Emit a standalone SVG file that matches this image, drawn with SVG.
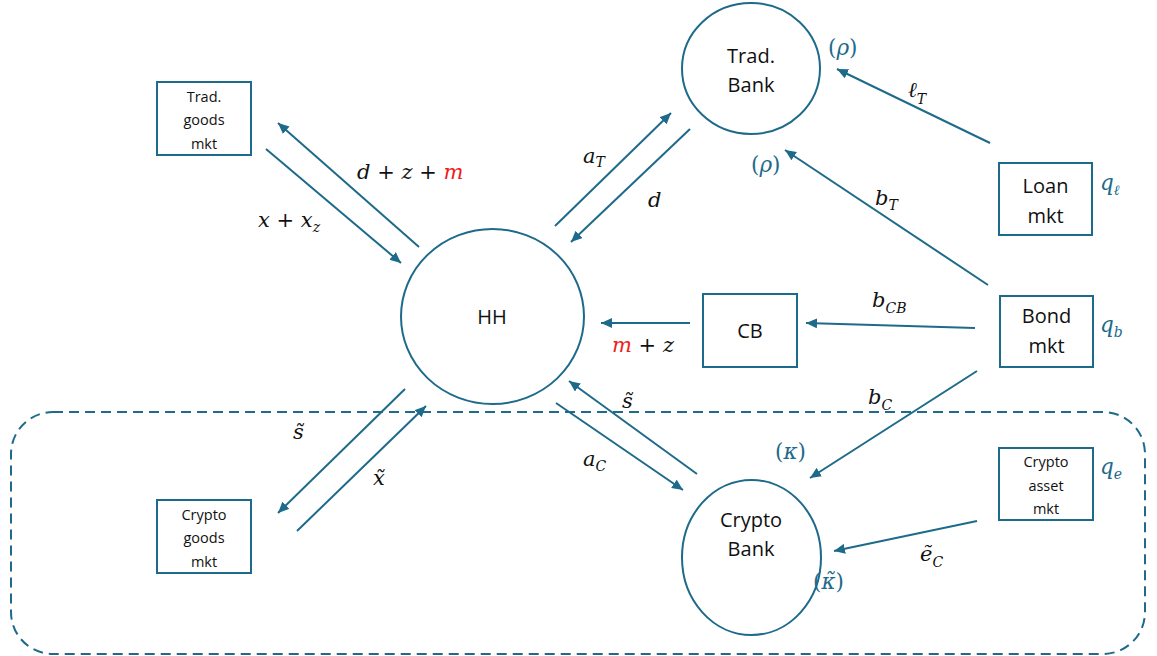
<svg xmlns="http://www.w3.org/2000/svg" width="1157" height="656" viewBox="0 0 1157 656">
<style>
.node{fill:#fff;stroke:#1D6A8A;stroke-width:2}
.lbl{font-family:"Open Sans","Liberation Sans",sans-serif;fill:#111;text-anchor:middle}
.big{font-size:20px}
.small{font-size:14.5px}
.conn line{stroke:#1D6A8A;stroke-width:2;marker-end:url(#ah)}
.m{font-family:"DejaVu Serif","Liberation Serif",serif;font-style:italic;font-size:21px;fill:#111}
.p{font-family:"DejaVu Serif","Liberation Serif",serif;font-style:italic;font-size:21.5px;fill:#1D6A8A}
.up{font-style:normal}
.sub{font-size:14px}
.red{fill:#EE1C1C}
</style>
<defs>
<marker id="ah" markerUnits="userSpaceOnUse" markerWidth="12" markerHeight="10" refX="11" refY="5" orient="auto">
<path d="M0,0 L11,5 L0,10 z" fill="#1D6A8A"/>
</marker>
</defs>
<rect x="11" y="412" width="1134" height="242" rx="42" ry="42" fill="none" stroke="#1D6A8A" stroke-width="2" stroke-dasharray="10,6"/>
<g class="conn">
<line x1="419" y1="247" x2="278" y2="123"/>
<line x1="266" y1="149" x2="401" y2="263"/>
<line x1="555" y1="226" x2="671" y2="113"/>
<line x1="690" y1="129" x2="571" y2="242"/>
<line x1="990" y1="143" x2="837" y2="69"/>
<line x1="988" y1="285" x2="785" y2="150"/>
<line x1="975" y1="328" x2="806" y2="323"/>
<line x1="690" y1="323" x2="601" y2="323"/>
<line x1="977" y1="371" x2="810" y2="478"/>
<line x1="556" y1="403" x2="683" y2="490"/>
<line x1="697" y1="474" x2="569" y2="381"/>
<line x1="977" y1="521" x2="834" y2="551"/>
<line x1="405" y1="389" x2="278" y2="513"/>
<line x1="297" y1="531" x2="426" y2="406"/>
</g>
<g id="hh"><ellipse class="node" cx="492.5" cy="316.5" rx="91.5" ry="87.5"/><text class="lbl big" x="492" y="324">HH</text></g>
<g id="tradbank"><ellipse class="node" cx="751" cy="68.5" rx="69" ry="65.5"/><text class="lbl big" x="751" y="63">Trad.</text><text class="lbl big" x="751" y="92">Bank</text></g>
<g id="cryptobank"><ellipse class="node" cx="751.5" cy="557.5" rx="69.5" ry="77.5"/><text class="lbl big" x="751" y="527">Crypto</text><text class="lbl big" x="751" y="556">Bank</text></g>
<g id="tradgoods"><rect class="node" x="157" y="82" width="94" height="73"/><text class="lbl small" x="204" y="102">Trad.</text><text class="lbl small" x="204" y="125">goods</text><text class="lbl small" x="204" y="149">mkt</text></g>
<g id="cryptogoods"><rect class="node" x="157" y="500" width="94" height="73"/><text class="lbl small" x="204" y="520">Crypto</text><text class="lbl small" x="204" y="543">goods</text><text class="lbl small" x="204" y="567">mkt</text></g>
<g id="cb"><rect class="node" x="703" y="294" width="94" height="73"/><text class="lbl big" x="750" y="338">CB</text></g>
<g id="loan"><rect class="node" x="999" y="163" width="93" height="72"/><text class="lbl big" x="1045.5" y="193">Loan</text><text class="lbl big" x="1045.5" y="223">mkt</text></g>
<g id="bond"><rect class="node" x="1000" y="296" width="93" height="71"/><text class="lbl big" x="1046.5" y="323">Bond</text><text class="lbl big" x="1046.5" y="353">mkt</text></g>
<g id="cryptoasset"><rect class="node" x="999" y="448" width="94" height="72"/><text class="lbl small" x="1046" y="467">Crypto</text><text class="lbl small" x="1046" y="491">asset</text><text class="lbl small" x="1046" y="514">mkt</text></g>
<g id="labels">
<text class="m" x="357" y="179">d <tspan class="up">+</tspan> z <tspan class="up">+</tspan> <tspan class="red">m</tspan></text>
<text class="m" x="258" y="227">x <tspan class="up">+</tspan> x<tspan class="sub" dy="5">z</tspan></text>
<text class="m" x="583" y="163">a<tspan class="sub" dy="4">T</tspan></text>
<text class="m" x="648" y="207">d</text>
<text class="m" x="908" y="97">ℓ<tspan class="sub" dy="7">T</tspan></text>
<text class="m" x="875" y="205">b<tspan class="sub" dy="5">T</tspan></text>
<text class="m" x="872" y="307">b<tspan class="sub" dy="6">CB</tspan></text>
<text class="m" x="612" y="352"><tspan class="red">m</tspan> <tspan class="up">+</tspan> z</text>
<text class="m" x="868" y="404">b<tspan class="sub" dy="6">C</tspan></text>
<text class="m" x="622" y="408">s̃</text>
<text class="m" x="583" y="466">a<tspan class="sub" dy="5">C</tspan></text>
<text class="m" x="920" y="561">ẽ<tspan class="sub" dy="6">C</tspan></text>
<text class="m" x="293" y="439">s̃</text>
<text class="m" x="373" y="485">x̃</text>
<text class="p" x="828" y="55"><tspan class="up">(</tspan>ρ<tspan class="up">)</tspan></text>
<text class="p" x="751" y="172"><tspan class="up">(</tspan>ρ<tspan class="up">)</tspan></text>
<text class="p" x="775" y="459"><tspan class="up">(</tspan>κ<tspan class="up">)</tspan></text>
<text class="p" x="813" y="589"><tspan class="up">(</tspan>κ̃<tspan class="up">)</tspan></text>
<text class="p" x="1100" y="190">q<tspan class="sub" dy="5">ℓ</tspan></text>
<text class="p" x="1100" y="332">q<tspan class="sub" dy="5">b</tspan></text>
<text class="p" x="1100" y="474">q<tspan class="sub" dy="5">e</tspan></text>
</g>
</svg>
